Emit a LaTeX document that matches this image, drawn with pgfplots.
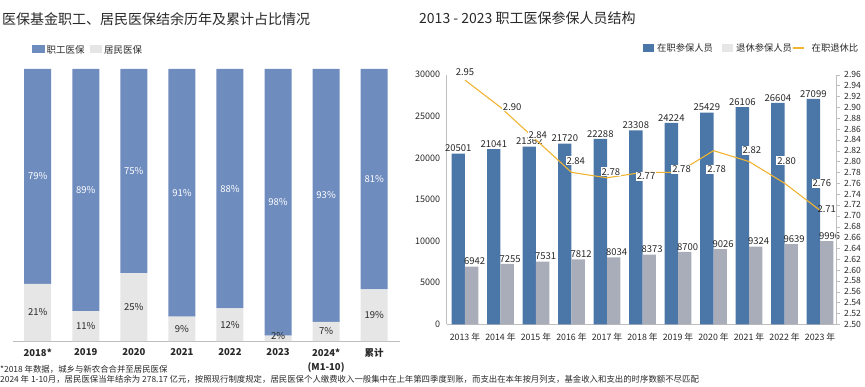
\documentclass[border=0pt]{standalone}
\usepackage{pgfplots}
\pgfplotsset{compat=1.18}
\usepackage{fontspec}
\setmainfont{Noto Sans CJK SC}
\definecolor{lblue}{RGB}{110,140,190}
\definecolor{lgray}{RGB}{230,230,230}
\definecolor{dblue}{RGB}{74,118,168}
\definecolor{dgray}{RGB}{168,173,185}
\definecolor{lineyel}{RGB}{240,180,50}
\definecolor{axgray}{RGB}{190,190,190}
\definecolor{txtc}{RGB}{40,40,40}
\tikzset{
  pw/.style={font=\fontsize{9.5}{11}\selectfont, text=white},
  pg/.style={font=\fontsize{9.5}{11}\selectfont, text=txtc},
  rl/.style={font=\fontsize{9.5}{11}\selectfont, text=txtc, fill=white, inner sep=1pt},
}
\pgfplotsset{leftgeom/.style={at={(13pt,45pt)}, anchor=south west, scale only axis,
  width=387pt, height=272pt, xmin=-0.514, xmax=7.537, ymin=0, ymax=100, clip=false}}
\begin{document}
\begin{tikzpicture}[x=1pt,y=1pt]
\path[use as bounding box] (0,0) rectangle (865,386);
% titles
\node[anchor=west, font=\fontsize{14}{16}\selectfont, text=txtc, inner sep=0pt] at (2,367) {医保基金职工、居民医保结余历年及累计占比情况};
\node[anchor=west, font=\fontsize{14}{16}\selectfont, text=txtc, inner sep=0pt] at (419,368) {2013 - 2023 职工医保参保人员结构};
% left legend
\fill[lblue] (32,332.5) rectangle (45,340.5);
\node[anchor=west, font=\fontsize{9.5}{11}\selectfont, text=txtc, inner sep=0pt] at (46.5,336.5) {职工医保};
\fill[lgray] (90,332.5) rectangle (102,340.5);
\node[anchor=west, font=\fontsize{9.5}{11}\selectfont, text=txtc, inner sep=0pt] at (104,336.5) {居民医保};
% right legend
\fill[dblue] (643,334) rectangle (654,342);
\node[anchor=west, font=\fontsize{9.3}{11}\selectfont, text=txtc, inner sep=0pt] at (657,338) {在职参保人员};
\fill[lgray] (722,334) rectangle (733,342);
\node[anchor=west, font=\fontsize{9.3}{11}\selectfont, text=txtc, inner sep=0pt] at (736,338) {退休参保人员};
\draw[lineyel, line width=1.2pt] (792.5,338) -- (803.5,338);
\node[anchor=west, font=\fontsize{9.3}{11}\selectfont, text=txtc, inner sep=0pt] at (811.5,338) {在职退休比};
% footnotes
\node[anchor=west, font=\fontsize{8.4}{10}\selectfont, text=txtc, inner sep=0pt] at (0,17) {*2018 年数据，城乡与新农合合并至居民医保};
\node[anchor=west, font=\fontsize{8.4}{10}\selectfont, text=txtc, inner sep=0pt] at (0,7) {2024 年 1-10月，居民医保当年结余为 278.17 亿元，按照现行制度规定，居民医保个人缴费收入一般集中在上年第四季度到账，而支出在本年按月列支，基金收入和支出的时序数额不尽匹配};

% ---------------- left chart
\begin{axis}[leftgeom,
  ybar stacked, bar width=27pt,
  axis x line*=bottom, axis y line=none,
  x axis line style={draw=axgray, line width=0.8pt, -},
  xtick={0,...,7},
  xticklabels={2018*,2019,2020,2021,2022,2023,{2024*\\(M1-10)},累计},
  xticklabel style={font=\bfseries\fontsize{9.5}{14}\selectfont, align=center, text=txtc, anchor=north, yshift=-4pt},
  major tick length=0pt]
\addplot[fill=lgray, draw=none] coordinates {(0,21)(1,11)(2,25)(3,9)(4,12)(5,2)(6,7)(7,19)};
\addplot[fill=lblue, draw=none] coordinates {(0,79)(1,89)(2,75)(3,91)(4,88)(5,98)(6,93)(7,81)};
\end{axis}
% left chart labels (overlay axis, same geometry)
\begin{axis}[leftgeom, hide axis]
\node[pw] at (axis cs:0,60.5) {79\%};
\node[pw] at (axis cs:1,55.5) {89\%};
\node[pw] at (axis cs:2,62.5) {75\%};
\node[pw] at (axis cs:3,54.5) {91\%};
\node[pw] at (axis cs:4,56) {88\%};
\node[pw] at (axis cs:5,51) {98\%};
\node[pw] at (axis cs:6,53.5) {93\%};
\node[pw] at (axis cs:7,59.5) {81\%};
\node[pg] at (axis cs:0,10.5) {21\%};
\node[pg] at (axis cs:1,5.5) {11\%};
\node[pg] at (axis cs:2,12.5) {25\%};
\node[pg] at (axis cs:3,4.5) {9\%};
\node[pg] at (axis cs:4,6) {12\%};
\node[pg] at (axis cs:5,2) {2\%};
\node[pg] at (axis cs:6,3.5) {7\%};
\node[pg] at (axis cs:7,9.5) {19\%};
\end{axis}

% ---------------- right chart: bars
\begin{axis}[at={(446.7pt,61.7pt)}, anchor=south west, scale only axis,
  width=390pt, height=249.6pt,
  xmin=-0.515, xmax=10.47, ymin=0, ymax=30000,
  ybar, bar width=13.3pt,
  axis x line*=bottom, axis y line*=left,
  axis line style={draw=axgray, line width=0.7pt, -},
  xtick={0,...,10},
  xticklabels={2013 年,2014 年,2015 年,2016 年,2017 年,2018 年,2019 年,2020 年,2021 年,2022 年,2023 年},
  xticklabel style={font=\fontsize{8.8}{10}\selectfont, text=txtc, yshift=-5pt},
  ytick={0,5000,...,30000}, scaled y ticks=false,
  yticklabel style={font=\fontsize{9}{10}\selectfont, text=txtc, xshift=-3pt},
  /pgf/number format/1000 sep={},
  /pgf/number format/assume math mode=true,
  major tick length=0pt, clip=false,
  nodes near coords,
  every node near coord/.append style={font=\fontsize{9.5}{11}\selectfont, text=txtc, inner sep=1.5pt}]
\addplot[fill=dblue, draw=none, bar shift=-6.65pt] coordinates {(0,20501)(1,21041)(2,21362)(3,21720)(4,22288)(5,23308)(6,24224)(7,25429)(8,26106)(9,26604)(10,27099)};
\addplot[fill=dgray, draw=none, bar shift=6.65pt, every node near coord/.append style={xshift=3pt}] coordinates {(0,6942)(1,7255)(2,7531)(3,7812)(4,8034)(5,8373)(6,8700)(7,9026)(8,9324)(9,9639)(10,9996)};
\end{axis}

% ---------------- right chart: ratio line
\begin{axis}[at={(446.7pt,61.7pt)}, anchor=south west, scale only axis,
  width=390pt, height=249.6pt,
  xmin=-0.515, xmax=10.47, ymin=2.5, ymax=2.96,
  axis x line=none, axis y line*=right,
  axis line style={draw=axgray, line width=0.7pt, -},
  ytick distance=0.02,
  yticklabel style={font=\fontsize{8.6}{10}\selectfont, text=txtc, xshift=1pt, /pgf/number format/fixed, /pgf/number format/fixed zerofill, /pgf/number format/precision=2},
  /pgf/number format/assume math mode=true,
  major tick length=3pt, tick style={draw=axgray}, tick align=outside,
  clip=false]
\addplot[lineyel, line width=1.1pt, mark=none] coordinates {(0,2.95)(1,2.90)(2,2.84)(3,2.78)(4,2.77)(5,2.78)(6,2.78)(7,2.82)(8,2.80)(9,2.76)(10,2.71)};
\node[rl] at (axis cs:0,2.9655) {2.95};
\node[rl] at (axis cs:1.33,2.901) {2.90};
\node[rl] at (axis cs:2.05,2.849) {2.84};
\node[rl] at (axis cs:3.12,2.8015) {2.84};
\node[rl] at (axis cs:4.11,2.781) {2.78};
\node[rl] at (axis cs:5.10,2.773) {2.77};
\node[rl] at (axis cs:6.10,2.786) {2.78};
\node[rl] at (axis cs:7.09,2.786) {2.78};
\node[rl] at (axis cs:8.08,2.821) {2.82};
\node[rl] at (axis cs:9.06,2.8015) {2.80};
\node[rl] at (axis cs:10.05,2.760) {2.76};
\node[pg] at (axis cs:10.19,2.7125) {2.71};
\end{axis}
\end{tikzpicture}
\end{document}
